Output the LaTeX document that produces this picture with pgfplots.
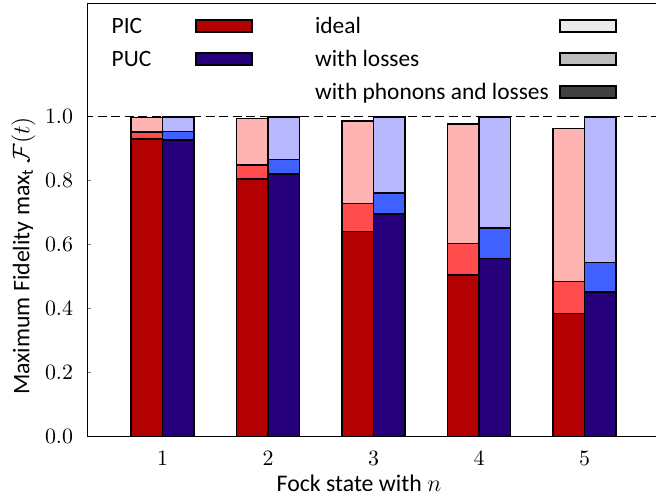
\documentclass[border=0pt]{standalone}
\usepackage{fontspec}
\setmainfont{Carlito}
\usepackage{pgfplots}
\usepackage{pgfplotstable}
\pgfplotsset{compat=1.18}

\definecolor{picA}{HTML}{FFB3B3}
\definecolor{picB}{HTML}{FF4D4D}
\definecolor{picC}{HTML}{B30000}
\definecolor{pucA}{HTML}{B8B8FF}
\definecolor{pucB}{HTML}{4060FF}
\definecolor{pucC}{HTML}{25007A}

% fidelities: ideal, with losses, with phonons and losses
\pgfplotstableread{
n ideal loss phon
1 0.997 0.951 0.931
2 0.994 0.849 0.805
3 0.986 0.728 0.641
4 0.977 0.603 0.506
5 0.963 0.485 0.385
}\picdata
\pgfplotstableread{
n ideal loss phon
1 0.998 0.954 0.927
2 0.999 0.866 0.820
3 0.999 0.761 0.696
4 0.998 0.652 0.557
5 0.998 0.544 0.452
}\pucdata

\newcommand{\legL}[1]{\makebox[41.6pt][l]{#1}}
\newcommand{\legR}[1]{\makebox[153.3pt][l]{\hspace*{31.2pt}#1}}

\begin{document}
\begin{tikzpicture}
\begin{axis}[
    scale only axis,
    width=285pt, height=216.7pt,
    xmin=0.287, xmax=5.69,
    ymin=0, ymax=1.354,
    xtick={1,2,3,4,5},
    ytick={0,0.2,0.4,0.6,0.8,1},
    tick align=inside,
    ytick pos=left,
    major tick length=2pt,
    xtick style={draw=none},
    axis line style={line width=0.7pt},
    ytick style={line width=0.7pt},
    tick label style={font=\fontsize{11}{13}\selectfont},
    yticklabel style={/pgf/number format/fixed,
        /pgf/number format/fixed zerofill,
        /pgf/number format/precision=1, xshift=-3.6pt},
    xticklabel style={yshift=-3.8pt},
    label style={font=\fontsize{11.9}{14}\selectfont},
    xlabel={Fock state with $n$},
    xlabel style={at={(axis description cs:0.4767,-0.1269)}, anchor=base},
    ylabel={Maximum Fidelity max\textsubscript{t} $\mathcal{F}(t)$},
    ylabel style={at={(axis description cs:-0.1123,0.417)}, anchor=center, rotate=0},
    legend columns=2,
    legend plot pos=right,
    legend cell align=left,
    legend style={at={(axis description cs:0.0428,0.9765)}, anchor=north west,
        draw=none, fill=none, inner sep=0pt, outer sep=0pt,
        column sep=0pt, row sep=4pt,
        font=\fontsize{11.7}{14}\selectfont,
        nodes={inner sep=0pt, text height=10pt, text depth=2.5pt}},
    bars/.style={forget plot, ybar, bar width=0.3, draw=black, line width=0.8pt},
    swatch/.style={legend image code/.code={\draw[fill=#1, draw=black, line width=0.9pt] (0pt,-3.1pt) rectangle (28pt,3.1pt);}},
]

\addplot[forget plot, black, dash pattern=on 4.5pt off 2.25pt, line width=0.7pt]
    coordinates {(0,1) (6,1)};

% PIC bars
\addplot[bars, bar shift=-0.15, fill=picA] table[x=n, y=ideal] {\picdata};
\addplot[bars, bar shift=-0.15, fill=picB] table[x=n, y=loss] {\picdata};
\addplot[bars, bar shift=-0.15, fill=picC] table[x=n, y=phon] {\picdata};

% PUC bars
\addplot[bars, bar shift=0.15, fill=pucA] table[x=n, y=ideal] {\pucdata};
\addplot[bars, bar shift=0.15, fill=pucB] table[x=n, y=loss] {\pucdata};
\addplot[bars, bar shift=0.15, fill=pucC] table[x=n, y=phon] {\pucdata};

% legend
\addlegendimage{swatch=picC}
\addlegendentry{\legL{PIC}}
\addlegendimage{swatch=black!8}
\addlegendentry{\legR{ideal}}
\addlegendimage{swatch=pucC}
\addlegendentry{\legL{PUC}}
\addlegendimage{swatch=black!26}
\addlegendentry{\legR{with losses}}
\addlegendimage{empty legend}
\addlegendentry{\legL{}}
\addlegendimage{swatch=black!75}
\addlegendentry{\legR{with phonons and losses}}

\coordinate (bsw) at (rel axis cs:0,0);
\coordinate (bne) at (rel axis cs:1,1);
\end{axis}
\pgfresetboundingbox
\path[use as bounding box] ([shift={(-43.65pt,-30.65pt)}]bsw) rectangle ([shift={(-0.65pt,1.65pt)}]bne);
\end{tikzpicture}
\end{document}
